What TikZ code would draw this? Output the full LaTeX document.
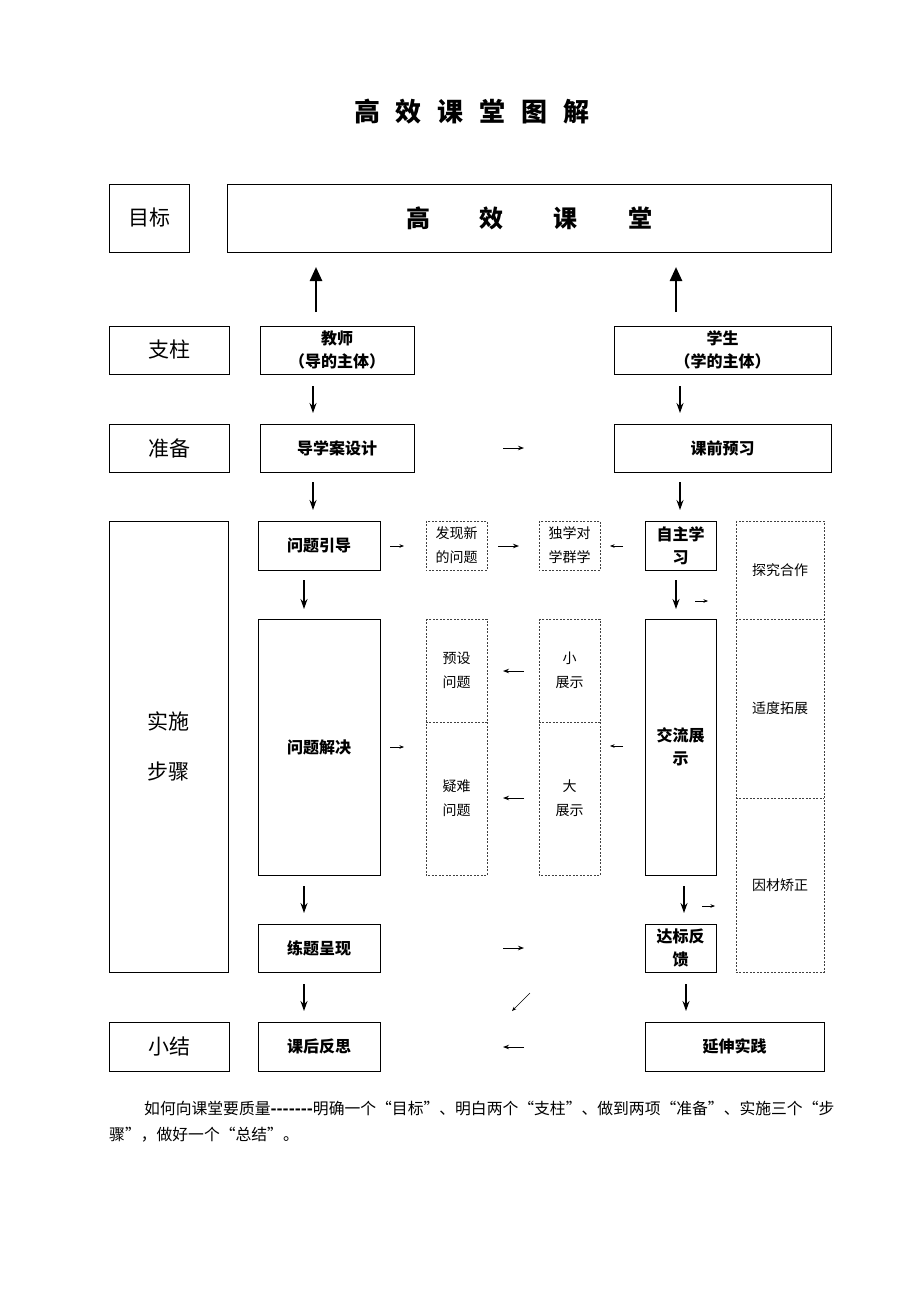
\documentclass[tikz,border=0pt]{standalone}
\usepackage{fontspec}
\setmainfont{Noto Sans CJK SC}
\usetikzlibrary{arrows.meta}
\begin{document}
\begin{tikzpicture}[x=1pt,y=-1pt,
  bx/.style={draw=black, line width=0.8pt, inner sep=0pt, align=center},
  dbx/.style={inner sep=0pt, align=center},
  dline/.style={draw=black!75, line width=0.6pt, dash pattern=on 2pt off 1.5pt},
  big/.style={font=\fontsize{21}{50}\selectfont},
  lbl/.style={font=\bfseries\fontsize{16}{23}\selectfont},
  sm/.style={font=\fontsize{14}{24}\selectfont},
  up/.style={line width=2.5pt, -{Triangle[length=14pt,width=12pt]}},
  dn/.style={line width=1.3pt, -{Stealth[length=10pt,width=7pt]}},
  sa/.style={line width=0.9pt, -{Stealth[length=6pt,width=4.5pt]}},
  ta/.style={line width=0.6pt, -{Stealth[length=4.5pt,width=3.5pt]}},
]
\useasboundingbox (0,0) rectangle (920,1302);
\fill[white] (0,0) rectangle (920,1302);

% title
\node[font=\bfseries\fontsize{26}{30}\selectfont] (title) at (472,112)
  {高\hspace{16pt}效\hspace{16pt}课\hspace{16pt}堂\hspace{16pt}图\hspace{16pt}解};

% row: goal
\node[bx,big,minimum width=80pt,minimum height=68pt] (mubiao) at (149,218) {目标};
\node[bx,font=\bfseries\fontsize{24}{28}\selectfont,minimum width=604pt,minimum height=68pt] (gxkt) at (529,218)
  {高\hspace{50pt}效\hspace{50pt}课\hspace{50pt}堂};

% row: pillars
\node[bx,big,minimum width=120pt,minimum height=48pt] (zhizhu) at (169,350) {支柱};
\node[bx,lbl,minimum width=154pt,minimum height=48pt] (jiaoshi) at (337,350) {教师\\（导的主体）};
\node[bx,lbl,minimum width=217pt,minimum height=48pt] (xuesheng) at (722.5,350) {学生\\（学的主体）};

% row: preparation
\node[bx,big,minimum width=120pt,minimum height=48pt] (zhunbei) at (169,448) {准备};
\node[bx,lbl,minimum width=154pt,minimum height=48pt] (daoxue) at (337,448) {导学案设计};
\node[bx,lbl,minimum width=217pt,minimum height=48pt] (yuxi) at (722.5,448) {课前预习};

% implementation
\node[bx,big,minimum width=119pt,minimum height=451pt] (shishi) at (168.5,746.5) {实施\\步骤};
\node[bx,lbl,minimum width=122pt,minimum height=49pt] (yindao) at (319,545.5) {问题引导};
\node[dbx,sm,minimum width=61pt,minimum height=49pt] (faxian) at (456.5,545.5) {发现新\\的问题};
\node[dbx,sm,minimum width=61pt,minimum height=49pt] (duxue) at (569.5,545.5) {独学对\\学群学};
\node[bx,lbl,minimum width=71pt,minimum height=49pt] (zizhu) at (680.5,545.5) {自主学\\习};
\node[dbx,sm,minimum width=88pt,minimum height=98pt] (tanjiu) at (780,570) {探究合作};
\node[dbx,sm,minimum width=88pt,minimum height=179pt] (shidu) at (780,708.5) {适度拓展};
\node[dbx,sm,minimum width=88pt,minimum height=174pt] (yincai) at (780,885) {因材矫正};

\node[bx,lbl,minimum width=122pt,minimum height=256pt] (jiejue) at (319,747) {问题解决};
\node[dbx,sm,minimum width=61pt,minimum height=103pt] (yushe) at (456.5,670.5) {预设\\问题};
\node[dbx,sm,minimum width=61pt,minimum height=153pt] (yinan) at (456.5,798.5) {疑难\\问题};
\node[dbx,sm,minimum width=61pt,minimum height=103pt] (xiaozs) at (569.5,670.5) {小\\展示};
\node[dbx,sm,minimum width=61pt,minimum height=153pt] (dazs) at (569.5,798.5) {大\\展示};
\node[bx,lbl,minimum width=71pt,minimum height=256pt] (jiaoliu) at (680.5,747) {交流展\\示};

\node[bx,lbl,minimum width=122pt,minimum height=48pt] (lianti) at (319,948) {练题呈现};
\node[bx,lbl,minimum width=71pt,minimum height=48pt] (dabiao) at (680.5,948) {达标反\\馈};

% dashed outlines
\draw[dline] (faxian.north west) rectangle (faxian.south east);
\draw[dline] (duxue.north west) rectangle (duxue.south east);
\draw[dline] (tanjiu.north west) rectangle (yincai.south east);
\draw[dline] (tanjiu.south west) -- (tanjiu.south east);
\draw[dline] (shidu.south west) -- (shidu.south east);
\draw[dline] (yushe.north west) rectangle (yinan.south east);
\draw[dline] (yushe.south west) -- (yushe.south east);
\draw[dline] (xiaozs.north west) rectangle (dazs.south east);
\draw[dline] (xiaozs.south west) -- (xiaozs.south east);

% summary
\node[bx,big,minimum width=120pt,minimum height=49pt] (xiaojie) at (169,1046.5) {小结};
\node[bx,lbl,minimum width=122pt,minimum height=49pt] (fansi) at (319,1046.5) {课后反思};
\node[bx,lbl,minimum width=179pt,minimum height=49pt] (yanshen) at (734.5,1046.5) {延伸实践};

% arrows
\coordinate (u1s) at (316,312); \coordinate (u1e) at (316,267);
\coordinate (u2s) at (676,312); \coordinate (u2e) at (676,267);
\draw[up] (u1s) -- (u1e);
\draw[up] (u2s) -- (u2e);

\coordinate (d1s) at (313,386); \coordinate (d1e) at (313,413);
\coordinate (d2s) at (680,386); \coordinate (d2e) at (680,413);
\draw[dn] (d1s) -- (d1e);
\draw[dn] (d2s) -- (d2e);
\coordinate (h1s) at (503,448); \coordinate (h1e) at (524,448);
\draw[sa] (h1s) -- (h1e);
\coordinate (d3s) at (313,482); \coordinate (d3e) at (313,510);
\coordinate (d4s) at (680,482); \coordinate (d4e) at (680,510);
\draw[dn] (d3s) -- (d3e);
\draw[dn] (d4s) -- (d4e);

\coordinate (h2s) at (390,546); \coordinate (h2e) at (404,546);
\draw[ta] (h2s) -- (h2e);
\coordinate (h3s) at (498,546); \coordinate (h3e) at (519,546);
\draw[sa] (h3s) -- (h3e);
\coordinate (h4s) at (623,546); \coordinate (h4e) at (610,546);
\draw[ta] (h4s) -- (h4e);

\coordinate (d5s) at (304,580); \coordinate (d5e) at (304,609);
\coordinate (d6s) at (676,580); \coordinate (d6e) at (676,609);
\draw[dn] (d5s) -- (d5e);
\draw[dn] (d6s) -- (d6e);
\coordinate (h5s) at (695,601); \coordinate (h5e) at (708,601);
\draw[ta] (h5s) -- (h5e);

\coordinate (h6s) at (390,747); \coordinate (h6e) at (404,747);
\draw[ta] (h6s) -- (h6e);
\coordinate (h7s) at (524,671); \coordinate (h7e) at (503,671);
\draw[sa] (h7s) -- (h7e);
\coordinate (h8s) at (524,798); \coordinate (h8e) at (503,798);
\draw[sa] (h8s) -- (h8e);
\coordinate (h9s) at (623,746); \coordinate (h9e) at (610,746);
\draw[ta] (h9s) -- (h9e);

\coordinate (d7s) at (304,886); \coordinate (d7e) at (304,913);
\coordinate (d8s) at (684,886); \coordinate (d8e) at (684,913);
\draw[dn] (d7s) -- (d7e);
\draw[dn] (d8s) -- (d8e);
\coordinate (h10s) at (702,906); \coordinate (h10e) at (715,906);
\draw[ta] (h10s) -- (h10e);
\coordinate (h11s) at (503,948); \coordinate (h11e) at (524,948);
\draw[sa] (h11s) -- (h11e);

\coordinate (d9s) at (304,984); \coordinate (d9e) at (304,1011);
\coordinate (d10s) at (686,984); \coordinate (d10e) at (686,1011);
\draw[dn] (d9s) -- (d9e);
\draw[dn] (d10s) -- (d10e);
\coordinate (g1s) at (530,993); \coordinate (g1e) at (512,1011);
\draw[ta] (g1s) -- (g1e);
\coordinate (h12s) at (524,1047); \coordinate (h12e) at (503,1047);
\draw[sa] (h12s) -- (h12e);

% paragraph
\node[anchor=base west,inner sep=0pt,font=\fontsize{15.8}{20}\selectfont] (p1) at (144,1114)
  {如何向课堂要质量\textbf{-\kern0pt-\kern0pt-\kern0pt-\kern0pt-\kern0pt-\kern0pt-}明确一个“目标”、明白两个“支柱”、做到两项“准备”、实施三个“步};
\node[anchor=base west,inner sep=0pt,font=\fontsize{15.8}{20}\selectfont] (p2) at (109,1140)
  {骤”，做好一个“总结”。};
\end{tikzpicture}
\end{document}
